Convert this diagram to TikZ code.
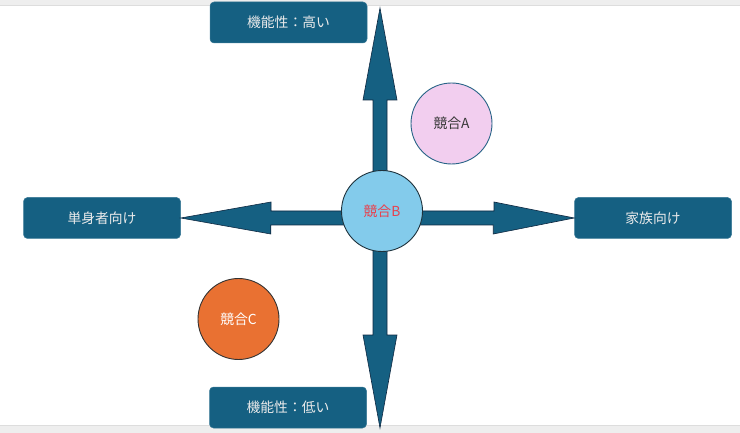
\documentclass[tikz,border=0pt]{standalone}
\usepackage{fontspec}
\setmainfont{Noto Sans CJK JP}
\usepackage{tikz}

\definecolor{boxblue}{HTML}{156082}
\definecolor{arrowline}{HTML}{0E2841}
\definecolor{cyanB}{HTML}{83CBEB}
\definecolor{pinkA}{HTML}{F2CEEF}
\definecolor{orangeC}{HTML}{E97132}
\definecolor{redtext}{RGB}{232,65,77}
\definecolor{bandgrey}{HTML}{EEEEEE}
\definecolor{bandline}{HTML}{DDDDDD}

\tikzset{
  axbox/.style={rectangle, rounded corners=4pt, fill=boxblue, draw=boxblue!85!white,
    line width=0.5pt, text=white!92!black, minimum width=157pt, minimum height=41pt},
  rival/.style={circle, minimum size=81pt, line width=0.9pt, inner sep=0pt},
  bigarrow/.style={fill=boxblue, draw=arrowline, line width=0.6pt, line join=miter}
}

\begin{document}
\begin{tikzpicture}[x=1pt, y=-1pt, font=\fontsize{13.8}{16}\selectfont]
        \useasboundingbox (0,0) rectangle (740,433);
        % window edges
        \fill[bandgrey] (0,0) rectangle (740,5);
        \draw[bandline] (0,5.5) -- (740,5.5);
        \fill[bandgrey] (0,425) rectangle (740,433);
        \draw[bandline] (0,425.5) -- (740,425.5);

        \node [axbox] (high) at (288.5,22.5) {機能性：高い};
        \node [axbox] (low) at (288,407.5) {機能性：低い};
        \node [axbox] (single) at (102,218) {単身者向け};
        \node [axbox] (family) at (653,218) {家族向け};

        \coordinate (o) at (380,218);
        \coordinate (top) at (380,8);
        \coordinate (bottom) at (380,428);

        \draw[bigarrow] (o) ++(-7,0) -- ++(0,-118) -- ++(-10,0) -- (top)
          -- ++(17,92) -- ++(-10,0) -- ++(0,118) -- cycle;
        \draw[bigarrow] (o) ++(-7,0) -- ++(0,117) -- ++(-10,0) -- (bottom)
          -- ++(17,-93) -- ++(-10,0) -- ++(0,-117) -- cycle;
        \draw[bigarrow] (o) ++(0,-7) -- ++(-109,0) -- ++(0,-9) -- (single.east)
          -- ++(90,16) -- ++(0,-9) -- ++(109,0) -- cycle;
        \draw[bigarrow] (o) ++(0,-7) -- ++(114,0) -- ++(0,-9) -- (family.west)
          -- ++(-81,16) -- ++(0,-9) -- ++(-114,0) -- cycle;

        \node [rival, fill=cyanB, draw={rgb,255:red,30;green,50;blue,60}, text=redtext] (b) at (382,211) {競合B};
        \node [rival, fill=pinkA, draw={rgb,255:red,40;green,100;blue,135}, text=black!78] (a) at (451.5,123.5) {競合A};
        \node [rival, fill=orangeC, draw=black!80, text=white] (c) at (238.5,319) {競合C};
      \end{tikzpicture}
\end{document}
